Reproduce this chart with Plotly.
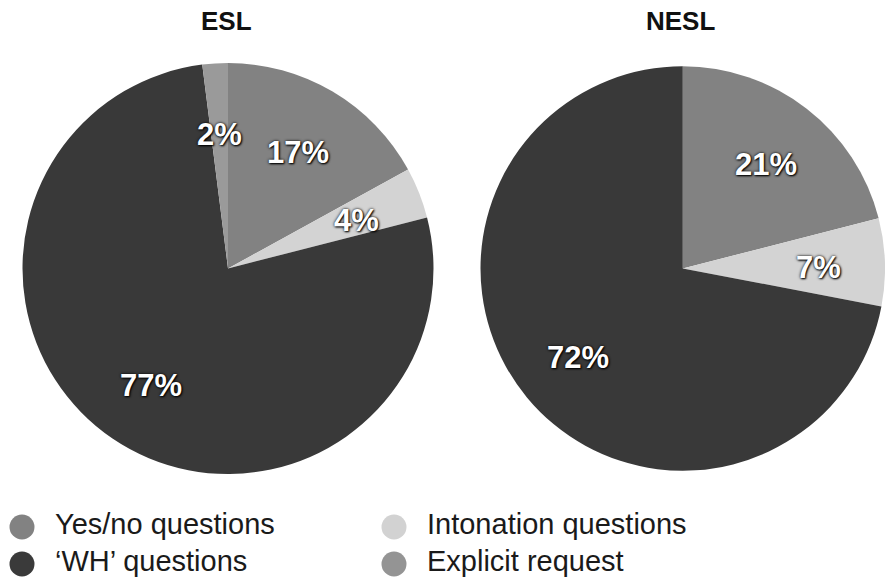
import math
import plotly.graph_objects as go

# Question types and their share (%) for each learner group
categories = ["Yes/no questions", "Intonation questions", "'WH' questions", "Explicit request"]
legend_labels = ["Yes/no questions", "Intonation questions", "\u2018WH\u2019 questions", "Explicit request"]
esl_values = [17, 4, 77, 2]
nesl_values = [21, 7, 72, 0]
group_names = ["ESL", "NESL"]

slice_colors = ["#828282", "#d3d3d3", "#393939", "#9a9a9a"]
legend_colors = ["#828282", "#d2d2d2", "#3a3a3a", "#949494"]

W, H = 885, 578

# pie placement in pixels: (left, right, top, bottom)
pie_boxes = [(22.5, 433.5, 63, 474), (480.5, 885, 63, 474)]

fig = go.Figure()

label_font = dict(family="Liberation Sans, Arial, sans-serif", size=31, color="white",
                  weight="bold", shadow="0px 0px 3px #000, 1px 1px 2px #000")

for name, values, (x0, x1, y0, y1) in zip(group_names, [esl_values, nesl_values], pie_boxes):
    fig.add_trace(go.Pie(
        labels=categories,
        values=values,
        sort=False,
        direction="clockwise",
        rotation=0,
        marker=dict(colors=slice_colors, line=dict(width=0)),
        textinfo="none",
        hoverinfo="label+percent",
        showlegend=False,
        domain=dict(x=[x0 / W, x1 / W], y=[1 - y1 / H, 1 - y0 / H]),
    ))

    # percentage labels placed at the middle angle of each slice
    cx, cy = (x0 + x1) / 2, (y0 + y1) / 2
    r = min(x1 - x0, y1 - y0) / 2
    total = sum(values)
    cum = 0
    for v in values:
        if v > 0:
            mid = (cum + v / 2) / total * 2 * math.pi
            px = cx + 0.67 * r * math.sin(mid)
            py = cy - 0.67 * r * math.cos(mid) + 3
            fig.add_annotation(x=px / W, y=1 - py / H, xref="paper", yref="paper",
                               text=f"{v}%", showarrow=False, font=label_font,
                               xanchor="center", yanchor="middle")
        cum += v

    # group title above each pie
    fig.add_annotation(x=(x0 + x1) / 2 / W - 0.002, y=1 - 21 / H, xref="paper", yref="paper",
                       text=f"<b>{name}</b>", showarrow=False,
                       font=dict(family="Liberation Sans, Arial, sans-serif", size=26, color="#111"),
                       xanchor="center", yanchor="middle")

# legend drawn as circles with labels in two columns
col_x = [22, 394]
row_y = [527, 564]
lx = [col_x[i % 2] for i in range(len(categories))]
ly = [row_y[i // 2] for i in range(len(categories))]
fig.add_trace(go.Scatter(
    x=lx, y=ly, mode="markers",
    marker=dict(size=25, color=legend_colors, line=dict(width=0)),
    hoverinfo="skip", showlegend=False,
))
fig.add_trace(go.Scatter(
    x=[x + 33 for x in lx], y=ly, mode="text",
    text=legend_labels, textposition="middle right",
    textfont=dict(family="Liberation Sans, Arial, sans-serif", size=29, color="#1a1a1a"),
    hoverinfo="skip", showlegend=False,
))

fig.update_layout(
    width=W, height=H,
    margin=dict(l=0, r=0, t=0, b=0),
    paper_bgcolor="white", plot_bgcolor="white",
    xaxis=dict(range=[0, W], visible=False, fixedrange=True),
    yaxis=dict(range=[H, 0], visible=False, fixedrange=True),
    showlegend=False,
)

fig.write_html("out.html")
